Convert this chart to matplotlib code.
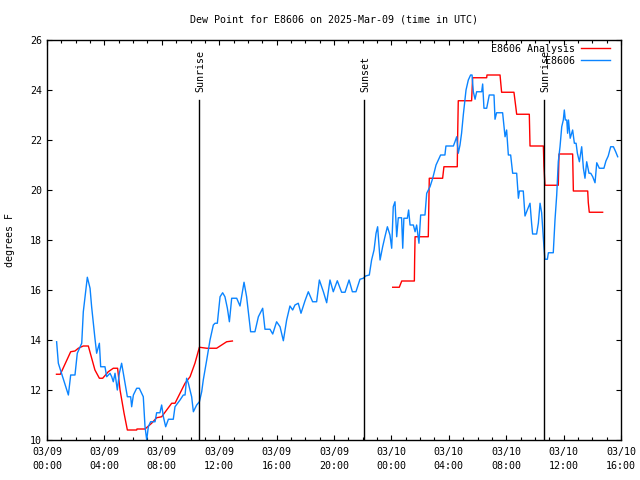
import matplotlib
matplotlib.use('Agg')
from matplotlib import pyplot as plt
from matplotlib.ticker import MultipleLocator

# hours since 2025-03-09 00:00 UTC
obs_hours = [0.67, 0.79, 1.49, 1.65, 1.95, 2.11, 2.42, 2.53, 2.81, 3.0, 3.11, 3.34, 3.46, 3.65, 3.74,
             4.04, 4.16, 4.39, 4.51, 4.62, 4.74, 4.90, 5.04, 5.20, 5.44, 5.60, 5.83, 5.90, 6.02, 6.25,
             6.43, 6.71, 6.83, 6.95, 7.06, 7.22, 7.53, 7.64, 7.87, 7.99, 8.11, 8.27, 8.46, 8.80, 8.92,
             9.27, 9.50, 9.62, 9.73, 9.85, 10.08, 10.20, 10.43, 10.62, 10.78, 10.89, 11.13, 11.36,
             11.59, 11.71, 11.87, 12.06, 12.24, 12.40, 12.57, 12.71, 12.87, 13.22, 13.45, 13.73,
             13.91, 14.19, 14.38, 14.49, 14.73, 15.03, 15.19, 15.54, 15.73, 16.0, 16.24, 16.47,
             16.70, 16.93, 17.12, 17.28, 17.51, 17.70, 17.98, 18.21, 18.51, 18.79, 18.98, 19.26,
             19.49, 19.72, 19.95, 20.23, 20.53, 20.77, 21.05, 21.28, 21.53, 21.81, 22.04, 22.2,
             22.46, 22.62, 22.79, 22.93, 23.04, 23.21, 23.39, 23.55, 23.72, 23.90, 24.02, 24.13,
             24.25, 24.37, 24.48, 24.71, 24.79, 24.87, 25.11, 25.2, 25.30, 25.53, 25.65, 25.76,
             25.92, 26.04, 26.34, 26.46, 26.69, 26.88, 27.11, 27.43, 27.73, 27.80, 28.32, 28.43,
             28.55, 28.66, 28.78, 28.89, 29.01, 29.20, 29.36, 29.52, 29.62, 29.71, 29.83, 29.94,
             30.29, 30.36, 30.45, 30.64, 30.82, 31.15, 31.22, 31.33, 31.75, 31.92, 32.03, 32.15,
             32.31, 32.45, 32.73, 32.85, 32.92, 33.19, 33.31, 33.47, 33.66, 33.77, 33.84, 34.12,
             34.24, 34.36, 34.47, 34.63, 34.70, 34.87, 34.94, 35.28, 35.40, 35.52, 35.63, 35.75,
             35.87, 35.98, 36.05, 36.12, 36.22, 36.28, 36.34, 36.46, 36.63, 36.75, 36.87, 36.96,
             37.1, 37.26, 37.38, 37.49, 37.61, 37.77, 37.89, 38.03, 38.19, 38.31, 38.49, 38.81,
             38.95, 39.11, 39.28, 39.47, 39.63, 39.77]
obs_dewpt = [13.93, 13.07, 11.8, 12.6, 12.6, 13.47, 13.87, 15.13, 16.51, 16.07, 15.33, 14.07, 13.47,
             13.87, 12.93, 12.93, 12.53, 12.67, 12.53, 12.33, 12.67, 12.0, 12.67, 13.07, 12.27, 11.73,
             11.73, 11.33, 11.8, 12.07, 12.07, 11.73, 10.53, 10.0, 10.53, 10.73, 10.73, 11.09, 11.09,
             11.4, 10.93, 10.53, 10.83, 10.83, 11.33, 11.6, 11.8, 11.8, 12.47, 12.27, 11.73, 11.13,
             11.4, 11.53, 11.93, 12.4, 13.2, 14.0, 14.6, 14.67, 14.67, 15.73, 15.89, 15.73, 15.27,
             14.73, 15.67, 15.67, 15.36, 16.31, 15.73, 14.33, 14.33, 14.33, 14.93, 15.27, 14.43, 14.43,
             14.24, 14.73, 14.53, 13.97, 14.8, 15.36, 15.2, 15.4, 15.47, 15.07, 15.57, 15.93, 15.53,
             15.53, 16.4, 15.93, 15.49, 16.4, 15.93, 16.37, 15.91, 15.91, 16.4, 15.93, 15.93, 16.43,
             16.47, 16.56, 16.6, 17.2, 17.6, 18.27, 18.53, 17.2, 17.73, 18.13, 18.53, 18.2, 17.67,
             19.33, 19.53, 18.13, 18.89, 18.89, 17.67, 18.87, 18.87, 19.2, 18.6, 18.6, 18.33, 18.6,
             17.87, 19.0, 19.0, 19.87, 20.13, 20.47, 21.0, 21.4, 21.4, 21.76, 21.76, 21.93, 22.13,
             21.47, 21.8, 22.27, 23.0, 24.0, 24.4, 24.6, 24.6, 23.93, 23.63, 23.93, 23.93, 24.24,
             23.27, 23.27, 23.8, 23.8, 22.83, 23.09, 23.09, 22.13, 22.4, 21.4, 21.4, 20.67, 20.67,
             19.67, 19.96, 19.96, 18.96, 19.2, 19.47, 18.67, 18.24, 18.24, 18.67, 19.47, 19.09,
             17.73, 17.23, 17.23, 17.49, 17.49, 18.8, 19.8, 21.13, 21.73, 22.53, 22.8, 23.2, 22.8,
             22.8, 22.27, 22.8, 22.07, 22.4, 21.87, 21.87, 21.47, 21.13, 21.73, 20.87, 20.47, 21.13,
             20.67, 20.67, 20.53, 20.29, 21.09, 20.87, 20.87, 21.16, 21.36, 21.73, 21.73, 21.53,
             21.33]

ana_hours = [0.66, 0.93, 1.65, 1.95, 2.18, 2.53, 2.88, 3.34, 3.65, 3.88, 4.27, 4.62, 4.92, 5.09,
             5.37, 5.60, 6.25, 6.27, 6.83, 7.29, 7.64, 7.99, 8.34, 8.69, 8.92, 9.27, 9.62, 9.97,
             10.31, 10.62, 11.13, 11.82, 12.17, 12.52, 12.92,
             None,
             24.09, 24.55, 24.72, 25.60, 25.62, 25.65, 26.57, 26.64, 27.57, 27.66, 28.59, 28.62,
             28.66, 29.59, 29.66, 30.64, 30.66, 31.57, 31.68, 32.54, 32.68, 32.73, 33.61, 33.66,
             34.59, 34.63, 34.70, 35.63, 35.68, 36.63, 36.68, 37.68, 37.72, 37.79, 38.72]
ana_dewpt = [12.63, 12.63, 13.53, 13.56, 13.67, 13.76, 13.76, 12.8, 12.47, 12.47, 12.73, 12.87,
             12.87, 12.0, 11.07, 10.4, 10.4, 10.44, 10.44, 10.67, 10.89, 10.93, 11.2, 11.47, 11.47,
             11.87, 12.27, 12.53, 13.07, 13.71, 13.67, 13.67, 13.8, 13.93, 13.96,
             None,
             16.11, 16.11, 16.36, 16.36, 17.23, 18.13, 18.13, 20.47, 20.47, 20.93, 20.93, 22.27,
             23.57, 23.57, 24.49, 24.49, 24.6, 24.6, 23.91, 23.91, 23.27, 23.03, 23.03, 21.76,
             21.76, 20.96, 20.19, 20.19, 21.44, 21.44, 19.96, 19.96, 19.5, 19.11, 19.11]

sun_hours = [10.59, 22.09, 34.63]
sun_labels = ['Sunrise', 'Sunset', 'Sunrise']

tick_hours = [0, 4, 8, 12, 16, 20, 24, 28, 32, 36, 40]
tick_labels = ['03/09\n00:00', '03/09\n04:00', '03/09\n08:00', '03/09\n12:00', '03/09\n16:00',
               '03/09\n20:00', '03/10\n00:00', '03/10\n04:00', '03/10\n08:00', '03/10\n12:00',
               '03/10\n16:00']

plt.rcParams['font.family'] = ['DejaVu Sans Mono']
plt.rcParams['font.size'] = 7.2

fig = plt.figure(figsize=(6.4, 4.8), dpi=100)
ax = fig.add_axes([47 / 640, 40 / 480, 574 / 640, 400 / 480])

ax.plot(ana_hours, ana_dewpt, color='#ff0000', lw=1.0, label='E8606 Analysis')
ax.plot(obs_hours, obs_dewpt, color='#0a84ff', lw=1.0, label='E8606')

for h, name in zip(sun_hours, sun_labels):
    ax.plot([h, h], [10, 23.6], color='black', lw=1.0)
    ax.text(h + 0.08, 23.92, name, rotation=90, ha='center', va='bottom')

ax.set_xlim(0, 40)
ax.set_ylim(10, 26)
ax.set_xticks(tick_hours)
ax.set_xticklabels(tick_labels, linespacing=1.45)
ax.xaxis.set_minor_locator(MultipleLocator(1))
ax.yaxis.set_major_locator(MultipleLocator(2))
ax.tick_params(which='both', direction='in', top=True, right=True, width=0.8)
ax.tick_params(which='major', length=3.8)
ax.tick_params(which='minor', length=2.2)
ax.tick_params(axis='x', which='major', pad=5)
ax.tick_params(axis='y', which='major', pad=3.5)
for s in ax.spines.values():
    s.set_linewidth(1.0)

ax.set_ylabel('degrees F')
ax.yaxis.set_label_coords(-32 / 574, 0.5)
ax.set_title('Dew Point for E8606 on 2025-Mar-09 (time in UTC)', fontsize=7.2, pad=12.5)

ax.legend(loc='upper right', bbox_to_anchor=(1 - 4 / 574, 1 + 3 / 400), frameon=False,
          markerfirst=False, handlelength=2.9, handletextpad=0.6, borderaxespad=0.3,
          labelspacing=0.2)

fig.savefig('out.png', dpi=100)
